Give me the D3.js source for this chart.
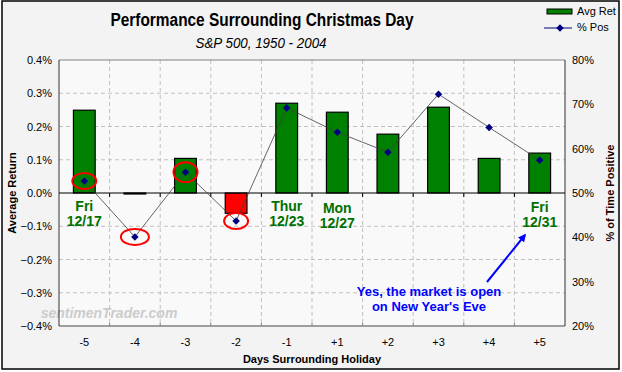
<!DOCTYPE html>
<html><head><meta charset="utf-8">
<script src="https://cdn.jsdelivr.net/npm/d3@7"></script>
<style>body{margin:0;background:#fff}svg{display:block;font-family:"Liberation Sans",Arial,sans-serif}</style>
</head><body><svg id="c" width="622" height="372"></svg>
<script>
const categories = ["-5","-4","-3","-2","-1","+1","+2","+3","+4","+5"];
const avgRet = [0.249, -0.003, 0.104, -0.061, 0.270, 0.243, 0.177, 0.258, 0.104, 0.120];
const pctPos = [52.7, 40.1, 54.7, 43.7, 69.2, 63.7, 59.2, 72.3, 64.8, 57.4];
const leftTicks = [-0.4,-0.3,-0.2,-0.1,0,0.1,0.2,0.3,0.4];
const rightTicks = [20,30,40,50,60,70,80];
const circled = ["-5","-4","-3","-2"];
const dayCats = ["-5","-1","+1","+5"];
const dayLine1 = ["Fri","Thur","Mon","Fri"];
const dayLine2 = ["12/17","12/23","12/27","12/31"];
const titleText = "Performance Surrounding Christmas Day";
const subtitleText = "S&P 500, 1950 - 2004";
const noteLines = ["Yes, the market is open","on New Year's Eve"];

const svg = d3.select("#c");
const L=59, R=565, T=60, B=326;
svg.append("rect").attr("x",0).attr("y",0).attr("width",622).attr("height",372).attr("fill","#ffffff");
svg.append("rect").attr("x",2).attr("y",1).attr("width",617).attr("height",368).attr("fill","#f3f3f3").attr("stroke","#000").attr("stroke-width",1.5);
svg.append("rect").attr("x",L).attr("y",T).attr("width",R-L).attr("height",B-T).attr("fill","#f9f9f9");

const x = d3.scaleBand().domain(categories).range([L,R]).padding(0);
const yL = d3.scaleLinear().domain([-0.4,0.4]).range([B,T]);
const yR = d3.scaleLinear().domain([20,80]).range([B,T]);
const bw = x.bandwidth()*0.43;

const g = svg.append("g");
g.selectAll("line.h").data(leftTicks.filter(d=>d!==0 && Math.abs(d)<0.4)).enter().append("line")
 .attr("x1",L).attr("x2",R).attr("y1",d=>yL(d)).attr("y2",d=>yL(d))
 .attr("stroke","#c0c0c0").attr("stroke-dasharray","4,3");
g.selectAll("line.v").data(categories.slice(1)).enter().append("line")
 .attr("x1",d=>x(d)).attr("x2",d=>x(d)).attr("y1",T).attr("y2",B)
 .attr("stroke","#c0c0c0").attr("stroke-dasharray","4,3");

svg.append("text").attr("x",109).attr("y",318).attr("text-anchor","middle")
 .attr("font-size",14).attr("font-weight","bold").attr("font-style","italic").attr("fill","#cccccc")
 .text("sentimenTrader.com");

svg.append("line").attr("x1",L).attr("x2",R).attr("y1",T).attr("y2",T).attr("stroke","#808080");
svg.append("line").attr("x1",L).attr("x2",R).attr("y1",B).attr("y2",B).attr("stroke","#808080").attr("stroke-width",1.5);
svg.append("line").attr("x1",L).attr("x2",L).attr("y1",T).attr("y2",B).attr("stroke","#333");
svg.append("line").attr("x1",R).attr("x2",R).attr("y1",T).attr("y2",B).attr("stroke","#333");

svg.selectAll("rect.bar").data(categories).enter().append("rect")
 .attr("x",d=>x(d)+x.bandwidth()/2-bw/2).attr("width",bw)
 .attr("y",(d,i)=>Math.min(yL(avgRet[i]),yL(0)))
 .attr("height",(d,i)=>Math.abs(yL(avgRet[i])-yL(0)))
 .attr("fill",(d,i)=>avgRet[i]<-0.01?"#ff0000":"#008000")
 .attr("stroke","#000").attr("stroke-width",1.2);

svg.append("line").attr("x1",L).attr("x2",R).attr("y1",yL(0)).attr("y2",yL(0)).attr("stroke","#000").attr("stroke-width",1.2);
svg.selectAll("line.zt").data(categories.slice(1)).enter().append("line")
 .attr("x1",d=>x(d)).attr("x2",d=>x(d)).attr("y1",yL(0)).attr("y2",yL(0)+4).attr("stroke","#000");
svg.selectAll("line.bt").data(categories.slice(1)).enter().append("line")
 .attr("x1",d=>x(d)).attr("x2",d=>x(d)).attr("y1",B).attr("y2",B-3).attr("stroke","#808080");

const line = d3.line().x((d,i)=>x(categories[i])+x.bandwidth()/2).y(d=>yR(d));
svg.append("path").datum(pctPos).attr("d",line).attr("fill","none").attr("stroke","#404040").attr("stroke-width",0.8);
svg.selectAll("path.m").data(pctPos).enter().append("path")
 .attr("d",d3.symbol(d3.symbolDiamond2,36))
 .attr("transform",(d,i)=>`translate(${x(categories[i])+x.bandwidth()/2},${yR(d)})`)
 .attr("fill","#000080");

svg.selectAll("ellipse").data(circled).enter().append("ellipse")
 .attr("cx",d=>x(d)+x.bandwidth()/2)
 .attr("cy",d=>yR(pctPos[categories.indexOf(d)]))
 .attr("rx",(d,i)=>i===1?14:12).attr("ry",(d,i)=>i===2?10:8)
 .attr("fill","none").attr("stroke","#ff0000").attr("stroke-width",2);

const fs=11;
svg.selectAll("text.lt").data(leftTicks).enter().append("text")
 .attr("x",52).attr("y",d=>yL(d)+4).attr("text-anchor","end").attr("font-size",fs).attr("fill","#000")
 .text(d=>d3.format(".1%")(d/100));
svg.selectAll("text.rt").data(rightTicks).enter().append("text")
 .attr("x",572).attr("y",d=>yR(d)+4).attr("text-anchor","start").attr("font-size",fs).attr("fill","#000")
 .text(d=>d+"%");
svg.selectAll("text.xt").data(categories).enter().append("text")
 .attr("x",d=>x(d)+x.bandwidth()/2).attr("y",346).attr("text-anchor","middle").attr("font-size",fs).attr("fill","#000")
 .text(d=>d);
svg.append("text").attr("x",312).attr("y",363).attr("text-anchor","middle").attr("font-size",11).attr("font-weight","bold").text("Days Surrounding Holiday");
svg.append("text").attr("transform","translate(16,193) rotate(-90)").attr("text-anchor","middle").attr("font-size",11).attr("font-weight","bold").text("Average Return");
svg.append("text").attr("transform","translate(614,193) rotate(-90)").attr("text-anchor","middle").attr("font-size",11).attr("font-weight","bold").attr("fill","#200000").text("% of Time Positive");

svg.append("text").attr("x",262).attr("y",26).attr("text-anchor","middle").attr("font-size",18).attr("font-weight","bold")
 .attr("textLength",303).attr("lengthAdjust","spacingAndGlyphs").text(titleText);
svg.append("text").attr("x",261).attr("y",48).attr("text-anchor","middle").attr("font-size",15).attr("font-style","italic")
 .attr("textLength",131).attr("lengthAdjust","spacingAndGlyphs").text(subtitleText);

svg.append("rect").attr("x",547).attr("y",9).attr("width",25).attr("height",5).attr("fill","#008000").attr("stroke","#000");
svg.append("text").attr("x",577).attr("y",15).attr("font-size",11).text("Avg Ret");
svg.append("line").attr("x1",544).attr("x2",572).attr("y1",28).attr("y2",28).attr("stroke","#000080");
svg.append("path").attr("d",d3.symbol(d3.symbolDiamond2,36)).attr("transform","translate(560,28)").attr("fill","#000080");
svg.append("text").attr("x",577).attr("y",31).attr("font-size",11).text("% Pos");

dayCats.forEach((c,i)=>{
  const cx = x(c)+x.bandwidth()/2;
  const yo = (c==="+1")?2:(c==="+5"?1:0);
  svg.append("text").attr("x",cx).attr("y",yL(-0.055)+yo).attr("text-anchor","middle").attr("font-size",14).attr("font-weight","bold").attr("fill","#007000").text(dayLine1[i]);
  svg.append("text").attr("x",cx).attr("y",yL(-0.1)+yo).attr("text-anchor","middle").attr("font-size",14).attr("font-weight","bold").attr("fill","#007000").text(dayLine2[i]);
});

svg.append("defs").append("marker").attr("id","ah").attr("viewBox","0 0 10 10").attr("refX",8).attr("refY",5)
 .attr("markerWidth",4).attr("markerHeight",4).attr("orient","auto")
 .append("path").attr("d","M0,0L10,5L0,10z").attr("fill","#0000ff");
svg.append("line").attr("x1",487).attr("y1",282).attr("x2",525).attr("y2",235).attr("stroke","#0000ff").attr("stroke-width",2).attr("marker-end","url(#ah)");
noteLines.forEach((t,i)=>{
  svg.append("text").attr("x",429).attr("y",296+i*15).attr("text-anchor","middle").attr("font-size",13).attr("font-weight","bold").attr("fill","#0000ff").text(t);
});
</script></body></html>
